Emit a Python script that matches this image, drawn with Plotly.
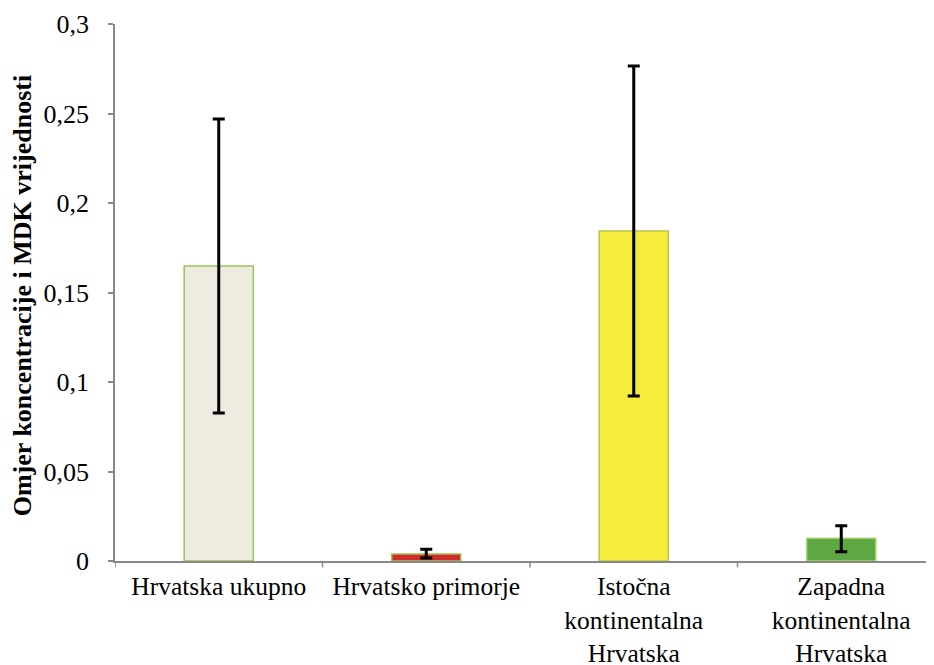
import plotly.graph_objects as go

categories = ["Hrvatska ukupno", "Hrvatsko primorje",
              "Istočna<br>kontinentalna<br>Hrvatska", "Zapadna<br>kontinentalna<br>Hrvatska"]
values = [0.1648, 0.0039, 0.1844, 0.0127]
err_plus = [0.0821, 0.0026, 0.0921, 0.0070]
err_minus = [0.0821, 0.0022, 0.0922, 0.0075]
fill_colors = ["#EEEBE0", "#D22B2B", "#F5EC3C", "#5EA843"]
line_colors = ["#9BC35A", "#9BC35A", "#B9C44A", "#A9D36E"]
tick_vals = [0, 0.05, 0.1, 0.15, 0.2, 0.25, 0.3]
tick_text = ["0", "0,05", "0,1", "0,15", "0,2", "0,25", "0,3"]
y_title = "<b>Omjer koncentracije i MDK vrijednosti</b>"

fig = go.Figure()
fig.add_trace(go.Bar(
    x=list(range(len(categories))), y=values, width=0.333,
    marker=dict(color=fill_colors, line=dict(color=line_colors, width=1.5)),
    error_y=dict(type="data", symmetric=False, array=err_plus, arrayminus=err_minus,
                 color="black", thickness=3, width=6),
))

fig.update_layout(
    width=934, height=665,
    margin=dict(l=107, r=8, t=16, b=112),
    paper_bgcolor="white", plot_bgcolor="white",
    showlegend=False,
    font=dict(family="Liberation Serif", color="black"),
    xaxis=dict(
        range=[-0.5, 3.447], tickmode="array",
        tickvals=list(range(len(categories))), ticktext=categories,
        showgrid=False, zeroline=False, showline=True, linecolor="#888888", linewidth=1.5,
        ticks="", tickfont=dict(size=25.5, family="Liberation Serif"),
        ticklabelstandoff=2, automargin=False,
    ),
    yaxis=dict(
        range=[0, 0.3], tickmode="array", tickvals=tick_vals, ticktext=tick_text,
        showgrid=False, zeroline=False, showline=True, linecolor="#888888", linewidth=1.5,
        ticks="outside", ticklen=5, tickcolor="#888888", tickwidth=1.5,
        tickfont=dict(size=26, family="Liberation Serif"),
        ticklabelstandoff=14, automargin=False,
    ),
    annotations=[dict(
        text=y_title, textangle=-90, xref="paper", yref="paper",
        x=-0.112, y=0.4935, xanchor="center", yanchor="middle", showarrow=False,
        font=dict(size=26, family="Liberation Serif", color="black"),
    )],
)
# category boundary ticks on x axis
for b in [-0.5, 0.5, 1.5, 2.5]:
    fig.add_shape(type="line", xref="x", yref="paper", x0=b, x1=b, y0=0, y1=-0.012,
                  line=dict(color="#888888", width=1.5))

fig.write_html("out.html")
